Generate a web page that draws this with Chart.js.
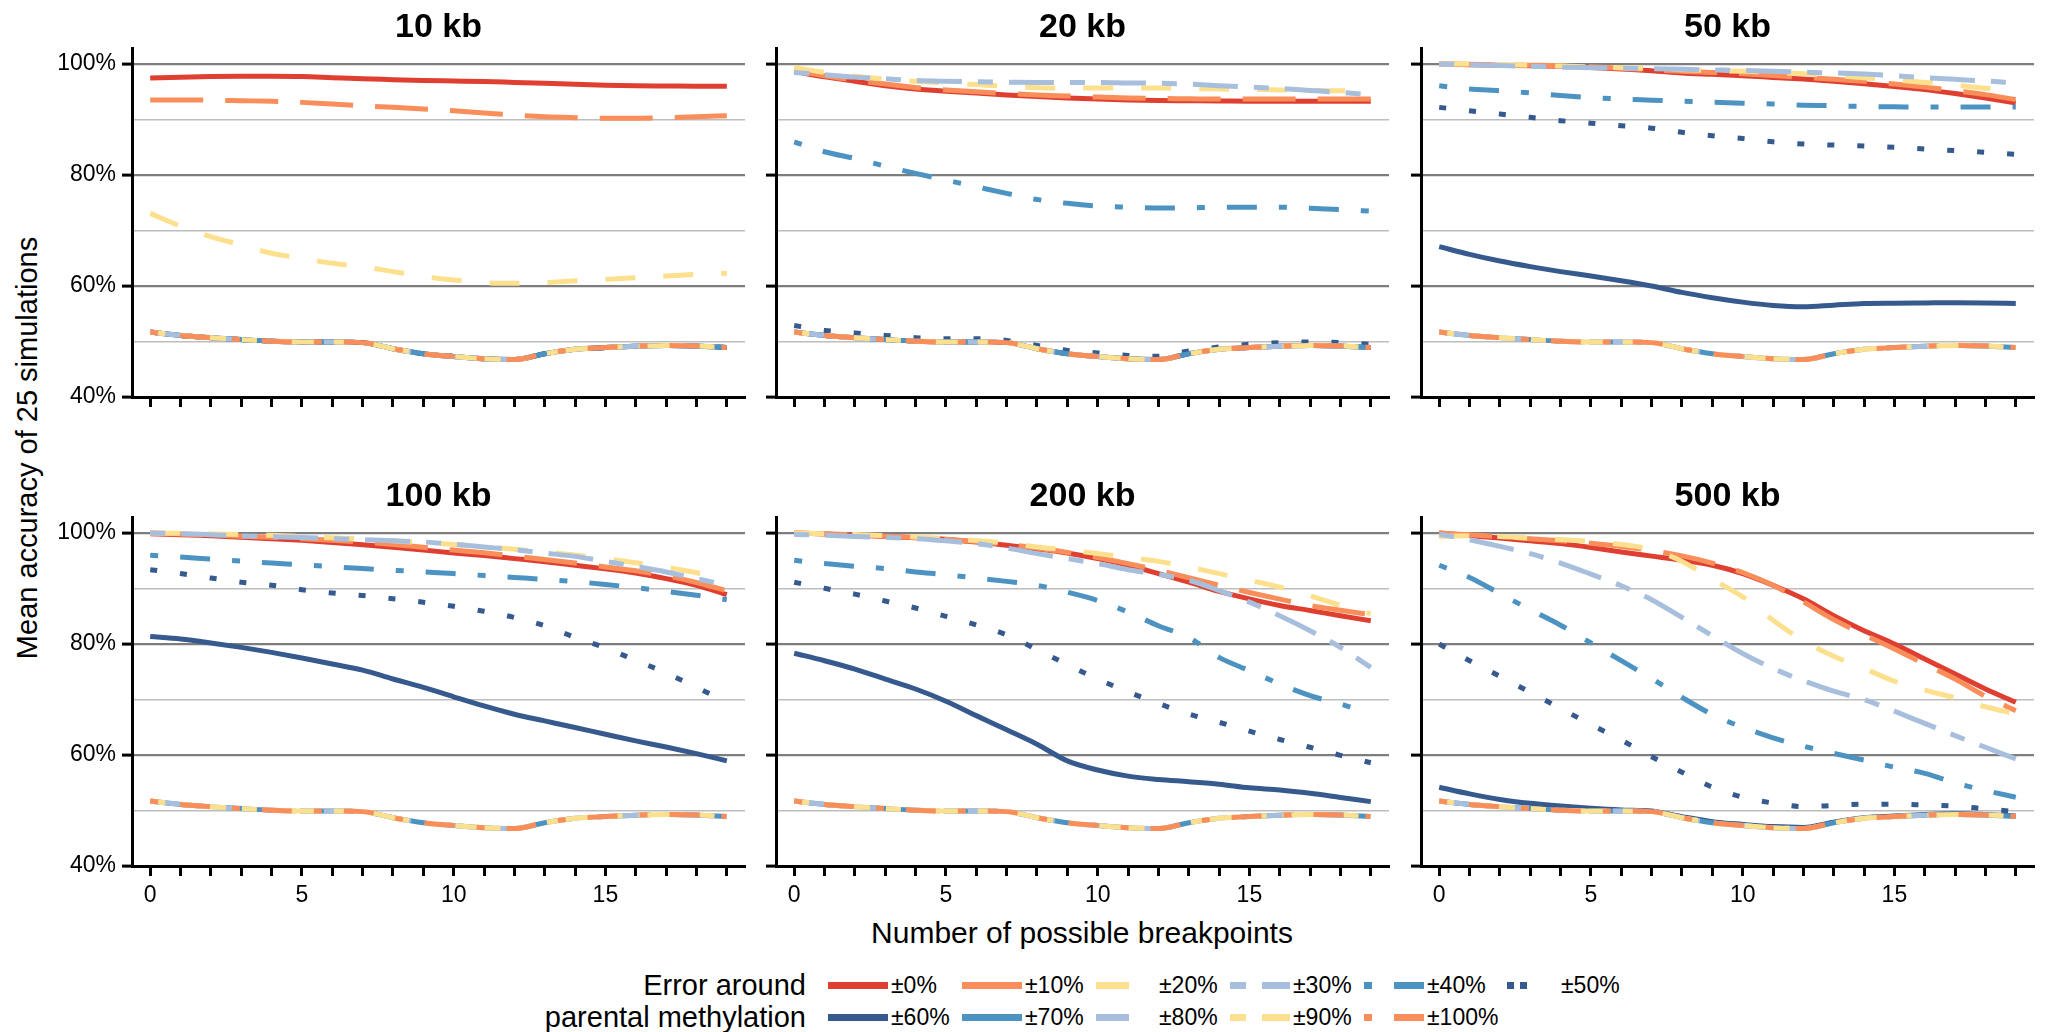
<!DOCTYPE html>
<html>
<head>
<meta charset="utf-8">
<script src="https://cdn.jsdelivr.net/npm/chart.js@4.4.1/dist/chart.umd.min.js"></script>
<style>
html, body { margin: 0; padding: 0; background: #fff; }
body { width: 2048px; height: 1032px; position: relative; overflow: hidden;
       font-family: 'Liberation Sans', Arial, Helvetica, sans-serif; color: #000; }
canvas.panel { position: absolute; }
.txt { position: absolute; white-space: nowrap; line-height: 1; }
#ytitle { left: 27px; top: 448px; font-size: 29px; transform: translate(-50%, -50%) rotate(-90deg); }
#xtitle { left: 1082px; top: 933px; font-size: 30px; transform: translate(-50%, -50%); }
.leg-head { right: 1242px; font-size: 29px; transform: translateY(-50%); text-align: right; }
.leg-item { position: absolute; display: flex; align-items: center; transform: translateY(-50%);
            font-size: 23px; white-space: nowrap; }
.leg-item span { margin-left: 3px; }
</style>
</head>
<body>
<div id="ytitle" class="txt">Mean accuracy of 25 simulations</div>
<div id="xtitle" class="txt">Number of possible breakpoints</div>
<div class="txt leg-head" style="top:985px">Error around</div>
<div class="txt leg-head" style="top:1017px">parental methylation</div>
<div id="legend"></div>

<script>
// ---- data ----
const breakpoints = [0, 1, 2, 3, 4, 5, 6, 7, 8, 9, 10, 11, 12, 13, 14, 15, 16, 17, 18, 19];
const xTickLabels = [0, 5, 10, 15];
const yTickLabels = [40, 60, 80, 100];
const yGridValues = [40, 50, 60, 70, 80, 90, 100];
const panelTitles = ['10 kb', '20 kb', '50 kb', '100 kb', '200 kb', '500 kb'];
const errorLabels = ['±0%', '±10%', '±20%', '±30%', '±40%', '±50%',
                     '±60%', '±70%', '±80%', '±90%', '±100%'];

// accuracy at chance level, same curve in every panel
const chance = [51.7, 51.1, 50.7, 50.35, 50.05, 49.9, 49.9, 49.8, 48.7, 47.8, 47.3, 46.9, 46.75, 47.8, 48.6, 48.9, 49.15, 49.3, 49.2, 48.9];

const kb10_e0  = [97.5, 97.65, 97.75, 97.8, 97.8, 97.75, 97.55, 97.35, 97.2, 97.05, 96.95, 96.85, 96.7, 96.55, 96.35, 96.2, 96.1, 96.05, 96.0, 96.0];
const kb10_e10 = [93.55, 93.55, 93.5, 93.4, 93.3, 93.1, 92.8, 92.5, 92.2, 91.9, 91.6, 91.2, 90.8, 90.5, 90.35, 90.25, 90.25, 90.35, 90.5, 90.7];
const kb10_e20 = [73.1, 70.8, 68.9, 67.4, 65.9, 65.0, 64.1, 63.5, 62.6, 61.7, 61.1, 60.6, 60.5, 60.6, 60.95, 61.2, 61.5, 61.8, 62.1, 62.3];

const kb20_e0  = [98.7, 97.7, 96.9, 96.1, 95.5, 95.1, 94.8, 94.45, 94.15, 93.9, 93.7, 93.55, 93.45, 93.4, 93.35, 93.3, 93.3, 93.3, 93.3, 93.3];
const kb20_e10 = [98.9, 97.9, 97.1, 96.4, 95.8, 95.35, 95.0, 94.7, 94.45, 94.25, 94.05, 93.9, 93.8, 93.75, 93.7, 93.7, 93.7, 93.7, 93.7, 93.7];
const kb20_e20 = [99.4, 98.5, 97.8, 97.3, 96.9, 96.6, 96.3, 96.0, 95.75, 95.7, 95.7, 95.7, 95.7, 95.6, 95.5, 95.45, 95.35, 95.3, 95.2, 95.2];
const kb20_e30 = [98.5, 98.1, 97.65, 97.35, 97.05, 96.9, 96.8, 96.75, 96.7, 96.7, 96.7, 96.6, 96.55, 96.4, 96.1, 95.85, 95.6, 95.25, 94.9, 94.45];
const kb20_e40 = [86.0, 84.2, 83.0, 81.6, 80.3, 79.1, 77.9, 76.7, 75.6, 74.9, 74.4, 74.2, 74.05, 74.1, 74.2, 74.2, 74.2, 74.0, 73.8, 73.5];
const kb20_e50 = [52.9, 52.0, 51.55, 51.1, 50.7, 50.5, 50.5, 50.2, 49.3, 48.4, 47.95, 47.5, 47.35, 48.3, 49.0, 49.5, 49.8, 49.9, 49.8, 49.5];

const kb50_e0  = [100, 99.9, 99.8, 99.7, 99.6, 99.4, 99.1, 98.8, 98.4, 98.15, 97.9, 97.6, 97.3, 96.9, 96.45, 95.95, 95.4, 94.7, 93.9, 93.0];
const kb50_e10 = [100, 99.95, 99.9, 99.8, 99.7, 99.5, 99.25, 99.0, 98.7, 98.5, 98.25, 97.95, 97.6, 97.25, 96.9, 96.4, 95.85, 95.2, 94.5, 93.6];
const kb50_e20 = [100, 100, 99.9, 99.8, 99.65, 99.5, 99.35, 99.2, 99.0, 98.85, 98.7, 98.5, 98.25, 97.95, 97.55, 97.15, 96.7, 96.2, 95.65, 95.3];
const kb50_e30 = [100, 99.9, 99.75, 99.6, 99.45, 99.35, 99.25, 99.15, 99.05, 98.95, 98.85, 98.7, 98.55, 98.4, 98.2, 97.9, 97.55, 97.25, 96.95, 96.6];
const kb50_e40 = [96.1, 95.5, 95.2, 94.8, 94.35, 93.97, 93.7, 93.5, 93.3, 93.15, 92.95, 92.8, 92.6, 92.5, 92.35, 92.3, 92.25, 92.25, 92.25, 92.25];
const kb50_e50 = [92.2, 91.6, 91.0, 90.4, 89.8, 89.35, 88.9, 88.45, 87.7, 87.1, 86.6, 86.0, 85.6, 85.4, 85.25, 85.0, 84.7, 84.4, 84.1, 83.75];
const kb50_e60 = [67.1, 65.7, 64.5, 63.5, 62.6, 61.8, 60.95, 60.0, 58.85, 57.9, 57.1, 56.5, 56.25, 56.55, 56.85, 56.9, 56.95, 57.0, 56.95, 56.85];

const kb100_e0  = [99.9, 99.7, 99.5, 99.25, 99.0, 98.7, 98.3, 97.9, 97.45, 96.95, 96.4, 95.95, 95.4, 94.85, 94.2, 93.55, 92.8, 91.8, 90.6, 88.9];
const kb100_e10 = [100, 99.85, 99.65, 99.45, 99.25, 99.0, 98.7, 98.35, 97.95, 97.45, 96.95, 96.45, 95.85, 95.25, 94.6, 93.9, 93.2, 92.3, 91.1, 89.6];
const kb100_e20 = [100, 99.95, 99.85, 99.75, 99.6, 99.4, 99.15, 98.9, 98.6, 98.3, 97.95, 97.55, 97.1, 96.6, 96.05, 95.4, 94.65, 93.8, 92.85, 91.6];
const kb100_e30 = [100, 99.9, 99.7, 99.5, 99.35, 99.2, 99.0, 98.8, 98.6, 98.4, 98.0, 97.5, 97.0, 96.4, 95.8, 94.9, 94.0, 93.0, 91.8, 90.6];
const kb100_e40 = [96.0, 95.7, 95.3, 94.95, 94.6, 94.3, 93.95, 93.6, 93.3, 93.0, 92.7, 92.35, 92.0, 91.65, 91.25, 90.75, 90.15, 89.5, 88.8, 88.0];
const kb100_e50 = [93.4, 92.7, 91.9, 91.15, 90.6, 89.8, 89.2, 88.75, 88.15, 87.55, 86.8, 85.9, 84.8, 83.3, 81.2, 79.3, 77.05, 74.8, 72.2, 69.6];
const kb100_e60 = [81.35, 80.9, 80.2, 79.4, 78.5, 77.5, 76.4, 75.3, 73.7, 72.2, 70.5, 68.85, 67.35, 66.15, 64.95, 63.75, 62.55, 61.45, 60.25, 58.95];

const kb200_e0  = [100, 99.85, 99.6, 99.4, 99.15, 98.85, 98.4, 97.8, 97.15, 96.4, 95.4, 94.2, 92.7, 91.15, 89.5, 88.15, 86.95, 86.05, 85.1, 84.2];
const kb200_e10 = [100, 99.9, 99.7, 99.45, 99.2, 98.9, 98.5, 97.95, 97.3, 96.5, 95.6, 94.5, 93.3, 91.95, 90.6, 89.3, 88.1, 86.95, 86.1, 85.3];
const kb200_e20 = [100, 99.9, 99.75, 99.55, 99.3, 99.0, 98.65, 98.2, 97.5, 96.95, 96.3, 95.6, 94.9, 93.9, 92.7, 91.5, 90.25, 88.7, 86.95, 85.45];
const kb200_e30 = [99.75, 99.6, 99.4, 99.2, 99.0, 98.6, 98.1, 97.3, 96.3, 95.4, 94.5, 93.4, 92.55, 91.5, 89.65, 87.55, 85.1, 82.4, 79.4, 75.8];
const kb200_e40 = [95.1, 94.5, 94.0, 93.6, 93.0, 92.5, 91.9, 91.3, 90.6, 89.35, 87.85, 85.75, 83.3, 81.2, 77.6, 75.2, 72.8, 70.7, 69.2, 67.4];
const kb200_e50 = [91.15, 90.05, 89.0, 87.75, 86.5, 85.0, 83.45, 81.65, 79.0, 76.3, 73.7, 71.4, 69.3, 67.4, 65.9, 64.3, 62.8, 61.4, 59.95, 58.6];
const kb200_e60 = [78.35, 77.0, 75.5, 73.7, 71.9, 69.7, 67.1, 64.55, 61.95, 58.95, 57.3, 56.2, 55.6, 55.2, 54.75, 54.1, 53.7, 53.1, 52.35, 51.6];

const kb500_e0  = [100, 99.55, 99.1, 98.6, 98.1, 97.4, 96.6, 95.85, 95.1, 94.2, 92.7, 90.6, 88.15, 85.1, 82.4, 80.0, 77.3, 74.6, 71.9, 69.5];
const kb500_e10 = [100, 99.7, 99.35, 99.0, 98.6, 98.15, 97.6, 96.85, 95.9, 94.6, 92.9, 90.6, 87.6, 84.4, 81.7, 79.1, 76.4, 73.7, 70.6, 68.0];
const kb500_e20 = [99.4, 99.5, 99.4, 99.1, 98.85, 98.5, 97.95, 97.0, 94.9, 91.7, 88.5, 84.3, 80.6, 77.8, 75.6, 73.3, 71.7, 70.3, 68.7, 67.4];
const kb500_e30 = [99.8, 98.8, 97.6, 96.3, 94.6, 92.6, 90.5, 88.0, 84.8, 81.5, 78.3, 75.6, 73.4, 71.5, 70.0, 67.9, 65.7, 63.5, 61.4, 59.3];
const kb500_e40 = [94.2, 92.0, 89.1, 86.2, 83.4, 80.2, 77.0, 73.8, 70.4, 67.3, 65.0, 63.1, 61.6, 60.3, 59.1, 57.8, 56.7, 55.0, 53.6, 52.4];
const kb500_e50 = [80.0, 77.0, 74.2, 71.3, 68.4, 65.5, 62.7, 59.7, 56.9, 54.2, 52.4, 51.35, 50.7, 50.9, 51.15, 51.15, 51.0, 50.8, 50.3, 49.8];
const kb500_e60 = [54.2, 53.0, 52.0, 51.3, 50.8, 50.4, 50.1, 49.9, 48.9, 48.0, 47.5, 47.1, 46.95, 47.9, 48.7, 49.0, 49.3, 49.4, 49.3, 49.0];

// one list per panel, in the order of errorLabels
const panelSeries = [
	[kb10_e0, kb10_e10, kb10_e20, chance, chance, chance, chance, chance, chance, chance, chance],
	[kb20_e0, kb20_e10, kb20_e20, kb20_e30, kb20_e40, kb20_e50, chance, chance, chance, chance, chance],
	[kb50_e0, kb50_e10, kb50_e20, kb50_e30, kb50_e40, kb50_e50, kb50_e60, chance, chance, chance, chance],
	[kb100_e0, kb100_e10, kb100_e20, kb100_e30, kb100_e40, kb100_e50, kb100_e60, chance, chance, chance, chance],
	[kb200_e0, kb200_e10, kb200_e20, kb200_e30, kb200_e40, kb200_e50, kb200_e60, chance, chance, chance, chance],
	[kb500_e0, kb500_e10, kb500_e20, kb500_e30, kb500_e40, kb500_e50, kb500_e60, chance, chance, chance, chance]
];

// ---- styles ----
const RED = '#df3f31', ORANGE = '#f98e5a', YELLOW = '#fde08d',
	LIGHTBLUE = '#a7bfdd', BLUE = '#4d93c2', DARKBLUE = '#375a8e';
const lineColors = [RED, ORANGE, YELLOW, LIGHTBLUE, BLUE, DARKBLUE,
	DARKBLUE, BLUE, LIGHTBLUE, YELLOW, ORANGE];
const SOLID = [], LONGDASH = [53, 22], DASH = [30, 28], SHORTLONG = [15, 16, 45, 16],
	DOTDASH = [8, 22, 30, 22], DOTTED = [7, 23];
const lineDashes = [SOLID, LONGDASH, DASH, SHORTLONG, DOTDASH, DOTTED,
	SOLID, LONGDASH, DASH, SHORTLONG, DOTDASH];
// the 60px legend samples only show the start of each pattern
const sampleDash = new Map([
	[SOLID, 'none'], [LONGDASH, 'none'], [DASH, '33 60'], [SHORTLONG, '16 16 45 16'],
	[DOTDASH, '8 22 30 22'], [DOTTED, '7 6 7 60']
]);
const sampleShift = new Map([[DOTTED, 9]]);

// ---- layout ----
const YW = 90;          // room left of each plot for y ticks
const PW = 613;         // plot width
const PH = 349;         // plot height
const TH = 40;          // title band
const XH = 50;          // room under each plot for x ticks
const RP = 6;
const plotLeft = [132, 776, 1421];
const plotTop = [48, 517];

Chart.defaults.font.family = "'Liberation Sans', Arial, Helvetica, sans-serif";
Chart.defaults.color = '#000';

function makePanel(p) {
	let col = p % 3;
	let row = Math.floor(p / 3);
	let canvas = document.createElement('canvas');
	canvas.className = 'panel';
	canvas.width = YW + PW + RP;
	canvas.height = TH + PH + XH;
	canvas.style.left = (plotLeft[col] - YW) + 'px';
	canvas.style.top = (plotTop[row] - TH) + 'px';
	document.body.appendChild(canvas);

	let datasets = panelSeries[p].map((vals, i) => ({
		label: errorLabels[i],
		data: vals.map((v, j) => ({x: breakpoints[j], y: v})),
		borderColor: lineColors[i],
		borderDash: lineDashes[i],
		borderWidth: 5,
		borderCapStyle: 'butt',
		pointRadius: 0,
		fill: false,
		cubicInterpolationMode: 'monotone',
		order: errorLabels.length - 1 - i   // later series on top
	}));

	let isMajor = v => yTickLabels.includes(v);

	new Chart(canvas, {
		type: 'line',
		data: {datasets: datasets},
		options: {
			responsive: false,
			animation: false,
			devicePixelRatio: 1,
			layout: {padding: {top: 0, right: RP, bottom: 0, left: 0}},
			plugins: {
				legend: {display: false},
				tooltip: {enabled: false},
				title: {
					display: true,
					text: panelTitles[p],
					fullSize: false,
					color: '#000',
					padding: 0,
					font: {size: 34, weight: 'bold', lineHeight: '40px'}
				}
			},
			scales: {
				x: {
					type: 'linear',
					min: -0.6,
					max: 19.6,
					afterBuildTicks: s => { s.ticks = breakpoints.map(v => ({value: v})); },
					afterFit: s => { s.height = XH; },
					ticks: {
						autoSkip: false,
						maxRotation: 0,
						padding: 6,
						font: {size: 23},
						// labels only under the bottom row
						callback: v => (row === 1 && xTickLabels.includes(v)) ? String(v) : ''
					},
					grid: {drawOnChartArea: false, drawTicks: true, tickLength: 10, tickWidth: 3, tickColor: '#000'},
					border: {display: true, color: '#000', width: 3}
				},
				y: {
					min: 40,
					max: 102.9,
					afterBuildTicks: s => { s.ticks = yGridValues.map(v => ({value: v})); },
					afterFit: s => { s.width = YW; },
					ticks: {
						display: col === 0,
						padding: 6,
						font: {size: 23},
						callback: v => isMajor(v) ? v + '%' : ''
					},
					grid: {
						color: c => c.tick.value === 40 ? '#000' : (isMajor(c.tick.value) ? '#7d7d7d' : '#bdbdbd'),
						lineWidth: c => isMajor(c.tick.value) ? 2.2 : 1.6,
						tickLength: 10,
						tickWidth: 3,
						tickColor: c => isMajor(c.tick.value) ? '#000' : 'rgba(0,0,0,0)'
					},
					border: {display: true, color: '#000', width: 3}
				}
			}
		}
	});
}

for (let p = 0; p < panelTitles.length; p++) {
	makePanel(p);
}

// legend: two rows, samples share the plot line styles
let legend = document.getElementById('legend');
errorLabels.forEach((lab, i) => {
	let row = i < 6 ? 0 : 1;
	let col = i < 6 ? i : i - 6;
	let item = document.createElement('div');
	item.className = 'leg-item';
	item.style.left = (828 + 134 * col) + 'px';
	item.style.top = (985 + 32 * row) + 'px';
	let dash = sampleDash.get(lineDashes[i]);
	let shift = sampleShift.get(lineDashes[i]) || 0;
	item.innerHTML = '<svg width="60" height="8"><line x1="' + shift + '" y1="4" x2="60" y2="4" stroke="' + lineColors[i] +
		'" stroke-width="7" stroke-dasharray="' + dash + '"/></svg><span>' + lab + '</span>';
	legend.appendChild(item);
});
</script>
</body>
</html>
